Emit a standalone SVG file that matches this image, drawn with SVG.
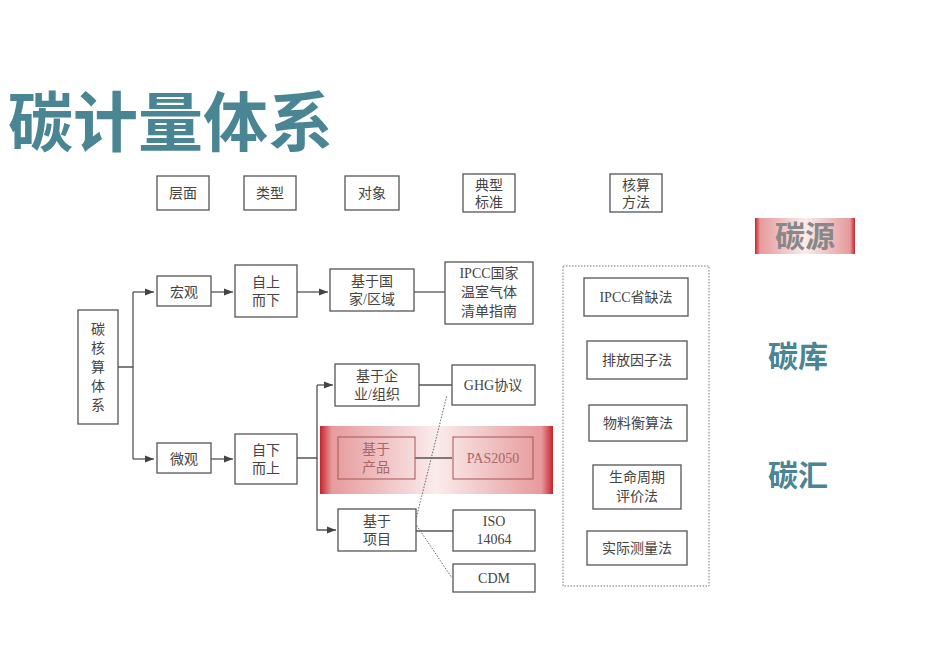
<svg xmlns="http://www.w3.org/2000/svg" width="950" height="672" viewBox="0 0 950 672">
<defs>
<style>
.b{fill:#fff;stroke:#555;stroke-width:1.3}
.t{font-family:"Liberation Serif","Noto Sans CJK SC",serif;font-size:14px;fill:#444;text-anchor:middle}
.c{stroke:#555;stroke-width:1.3;fill:none}
.r{font-family:"Noto Sans CJK SC",sans-serif;font-size:30px;font-weight:bold;fill:#4a8594;text-anchor:middle}
</style>
<marker id="a" viewBox="0 0 10 10" refX="10" refY="5" markerWidth="7" markerHeight="7" orient="auto"><path d="M0,1L10,5L0,9z" fill="#444"/></marker>
<linearGradient id="g" x1="0" x2="1"><stop offset="0" stop-color="#c8232a"/><stop offset="0.05" stop-color="#e69a9c"/><stop offset="0.5" stop-color="#fbecec"/><stop offset="0.95" stop-color="#e69a9c"/><stop offset="1" stop-color="#c8232a"/></linearGradient>
</defs>
<rect width="950" height="672" fill="#fff"/>
<text x="8" y="146" font-family="Noto Sans CJK SC,sans-serif" font-size="65" font-weight="bold" fill="#4a8594">碳计量体系</text>
<g id="hdr">
<rect class="b" x="157" y="176" width="52" height="34"/><text class="t" x="183" y="198">层面</text>
<rect class="b" x="244" y="176" width="52" height="34"/><text class="t" x="270" y="198">类型</text>
<rect class="b" x="345" y="176" width="54" height="34"/><text class="t" x="372" y="198">对象</text>
<rect class="b" x="463" y="174" width="52" height="38"/><text class="t" x="489" y="190">典型</text><text class="t" x="489" y="207">标准</text>
<rect class="b" x="610" y="174" width="52" height="38"/><text class="t" x="636" y="190">核算</text><text class="t" x="636" y="207">方法</text>
</g>
<rect x="320" y="426" width="233" height="68" fill="url(#g)"/>
<g id="connectors">
<path class="c" d="M118,367H133V292"/><path class="c" marker-end="url(#a)" d="M133,292H154"/>
<path class="c" d="M133,367V459"/><path class="c" marker-end="url(#a)" d="M133,459H154"/>
<path class="c" marker-end="url(#a)" d="M211,292H233"/>
<path class="c" marker-end="url(#a)" d="M211,459H233"/>
<path class="c" marker-end="url(#a)" d="M297,292H328"/>
<path class="c" d="M297,458H317V385"/><path class="c" marker-end="url(#a)" d="M317,385H333"/>
<path class="c" marker-end="url(#a)" d="M317,458V530H336"/>
<path class="c" d="M414,292H445"/>
<path class="c" d="M419,385H452"/>
<path class="c" d="M415,458H452"/>
<path class="c" d="M416,531H453"/>
<path stroke="#666" fill="none" stroke-dasharray="1.5,1.5" stroke-width="1" d="M415,523L447,395M415,523L452,578"/>
</g>
<g id="n1"><rect class="b" x="78" y="310" width="40" height="114"/><text class="t" x="98" y="334">碳</text><text class="t" x="98" y="353">核</text><text class="t" x="98" y="372">算</text><text class="t" x="98" y="391">体</text><text class="t" x="98" y="410">系</text></g>
<g id="n2"><rect class="b" x="157" y="276" width="54" height="30"/><text class="t" x="184" y="297">宏观</text></g>
<g id="n3"><rect class="b" x="157" y="443" width="54" height="30"/><text class="t" x="184" y="464">微观</text></g>
<g id="n4"><rect class="b" x="235" y="265" width="62" height="52"/><text class="t" x="266" y="287">自上</text><text class="t" x="266" y="305">而下</text></g>
<g id="n5"><rect class="b" x="235" y="434" width="62" height="50"/><text class="t" x="266" y="455">自下</text><text class="t" x="266" y="473">而上</text></g>
<g id="n6"><rect class="b" x="330" y="269" width="84" height="42"/><text class="t" x="372" y="286">基于国</text><text class="t" x="372" y="304">家/区域</text></g>
<g id="n7"><rect class="b" x="335" y="364" width="84" height="42"/><text class="t" x="377" y="381">基于企</text><text class="t" x="377" y="399">业/组织</text></g>
<g id="n8"><rect x="338" y="437" width="77" height="42" fill="none" stroke="#a55" stroke-width="1"/><text class="t" x="376" y="454" style="fill:#a66">基于</text><text class="t" x="376" y="472" style="fill:#a66">产品</text></g>
<g id="n9"><rect class="b" x="338" y="509" width="78" height="42"/><text class="t" x="377" y="526">基于</text><text class="t" x="377" y="544">项目</text></g>
<g id="n10"><rect class="b" x="445" y="262" width="88" height="62"/><text class="t" x="489" y="278">IPCC国家</text><text class="t" x="489" y="297">温室气体</text><text class="t" x="489" y="316">清单指南</text></g>
<g id="n11"><rect class="b" x="452" y="365" width="83" height="40"/><text class="t" x="493" y="390">GHG协议</text></g>
<g id="n12"><rect x="453" y="437" width="80" height="42" fill="none" stroke="#a55" stroke-width="1"/><text class="t" x="493" y="463" style="fill:#a66">PAS2050</text></g>
<g id="n13"><rect class="b" x="453" y="510" width="82" height="41"/><text class="t" x="494" y="526">ISO</text><text class="t" x="494" y="544">14064</text></g>
<g id="n14"><rect class="b" x="453" y="564" width="82" height="28"/><text class="t" x="494" y="583">CDM</text></g>
<rect x="563" y="266" width="146" height="320" fill="none" stroke="#777" stroke-dasharray="1.5,1.5"/>
<g id="m1"><rect class="b" x="584" y="278" width="104" height="38"/><text class="t" x="636" y="302">IPCC省缺法</text></g>
<g id="m2"><rect class="b" x="587" y="341" width="100" height="38"/><text class="t" x="637" y="365">排放因子法</text></g>
<g id="m3"><rect class="b" x="589" y="405" width="98" height="36"/><text class="t" x="638" y="428">物料衡算法</text></g>
<g id="m4"><rect class="b" x="593" y="465" width="88" height="44"/><text class="t" x="637" y="482">生命周期</text><text class="t" x="637" y="501">评价法</text></g>
<g id="m5"><rect class="b" x="587" y="531" width="100" height="34"/><text class="t" x="637" y="553">实际测量法</text></g>
<rect x="755" y="218" width="100" height="36" fill="url(#g)"/>
<text class="r" x="805" y="247" style="fill:#888">碳源</text>
<text class="r" x="798" y="367">碳库</text>
<text class="r" x="798" y="486">碳汇</text>
</svg>
